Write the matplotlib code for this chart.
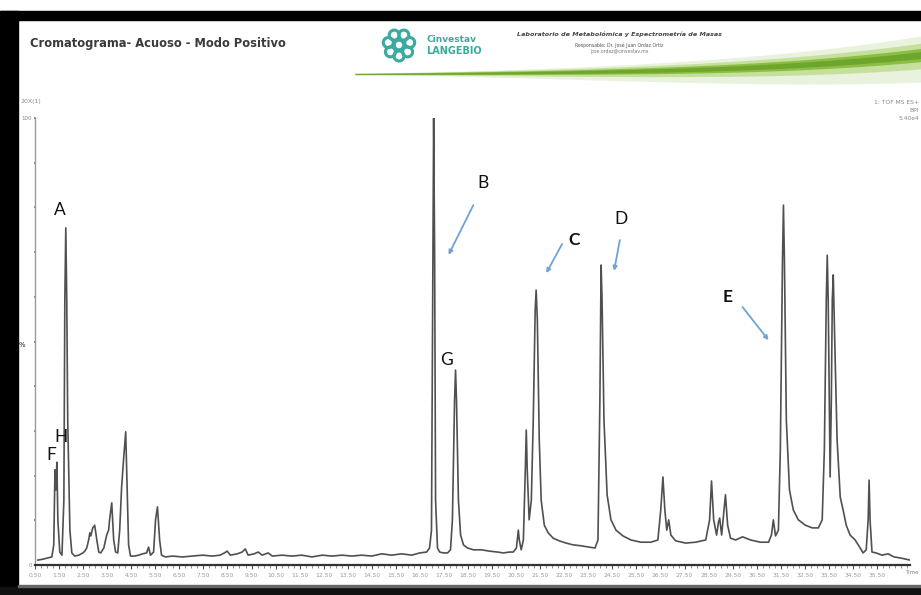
import numpy as np
import matplotlib
matplotlib.use("Agg")
from matplotlib import pyplot as plt
from matplotlib.patches import Rectangle, Circle

################################################################################
# datos leidos del cromatograma (tiempo en min, intensidad en %)
rt = [0.62, 0.83, 1.04, 1.20, 1.28, 1.33, 1.37, 1.41, 1.45, 1.53, 1.62, 1.70,
      1.74, 1.78, 1.82, 1.86, 1.95, 2.03, 2.15, 2.32, 2.49, 2.57, 2.65, 2.73,
      2.78, 2.82, 2.90, 2.98, 3.07, 3.15, 3.23, 3.36, 3.48, 3.56, 3.60, 3.69,
      3.77, 3.85, 3.94, 4.02, 4.10, 4.18, 4.27, 4.31, 4.39, 4.47, 4.64, 4.81,
      4.97, 5.14, 5.22, 5.30, 5.43, 5.51, 5.59, 5.68, 5.76, 5.92,
      6.21, 6.63, 7.04, 7.46, 7.87, 8.20, 8.37, 8.49, 8.62, 8.91, 9.11, 9.24,
      9.36, 9.61, 9.78, 9.94, 10.19, 10.36, 10.77, 11.18, 11.60, 12.01, 12.43,
      12.84, 13.26, 13.67, 14.08, 14.50, 14.91, 15.33, 15.74, 16.16, 16.49,
      16.78, 16.90,
      16.98, 17.03, 17.07, 17.11, 17.15, 17.23, 17.32, 17.48, 17.65, 17.77,
      17.85, 17.94, 17.98, 18.02, 18.10, 18.19, 18.31, 18.48, 18.72, 19.06,
      19.39, 19.72, 19.97, 20.22, 20.38, 20.51, 20.59, 20.63, 20.71, 20.80,
      20.88, 20.92, 20.96, 21.04, 21.13, 21.21, 21.29, 21.33, 21.38, 21.46,
      21.54, 21.67, 21.83, 22.04, 22.29, 22.58, 22.87, 23.20, 23.53, 23.78,
      23.90, 23.98, 24.03, 24.07, 24.15, 24.28, 24.44, 24.65, 24.94, 25.27,
      25.68, 26.10, 26.39, 26.51, 26.60, 26.68, 26.76, 26.84, 26.93, 27.13,
      27.55, 27.96, 28.38, 28.54, 28.62, 28.71, 28.83, 28.91, 28.96, 29.04,
      29.12, 29.20, 29.29, 29.41, 29.62, 29.91, 30.24, 30.65, 30.99, 31.11,
      31.19, 31.28, 31.40, 31.48, 31.57, 31.61, 31.65, 31.73, 31.86, 32.02,
      32.23, 32.52, 32.81, 33.06, 33.22, 33.31, 33.39, 33.43, 33.47, 33.55,
      33.60, 33.64, 33.68, 33.76, 33.84, 33.97, 34.09, 34.22, 34.38, 34.59,
      34.80, 34.92, 35.05, 35.13, 35.17, 35.21, 35.29, 35.46, 35.71, 35.96,
      36.21, 36.45, 36.70, 36.87]
intensidad = [1.1, 1.3, 1.6, 1.8, 4.5, 21.3, 16.8, 23.0, 10.1, 2.9, 2.2, 14.5,
              59.3, 75.4, 59.3, 32.4, 7.8, 2.7, 2.0, 2.2, 2.7, 3.1, 3.8, 5.6,
              7.2, 6.5, 8.3, 8.9, 5.6, 2.9, 2.7, 3.8, 6.7, 7.8, 10.1, 13.9,
              5.6, 2.9, 2.7, 7.8, 17.4, 23.5, 29.8, 21.3, 4.5, 2.0, 2.0, 2.2,
              2.5, 2.7, 4.0, 2.2, 2.9, 10.1, 13.0, 5.6, 2.2, 1.8,
              2.0, 1.8, 2.0, 2.2, 2.0, 2.2, 2.7, 3.1, 2.2, 2.5, 2.9, 3.6,
              2.2, 2.5, 2.9, 2.2, 2.7, 2.0, 2.2, 2.0, 2.2, 1.8, 2.2,
              2.0, 2.2, 2.0, 2.2, 2.0, 2.5, 2.2, 2.5, 2.2, 2.7,
              2.9, 3.8,
              7.8, 59.3, 100.0, 70.5, 14.5, 3.8, 2.9, 2.7, 2.7, 3.4,
              10.1, 36.9, 43.6, 36.9, 14.5, 6.7, 4.5, 3.8, 3.4, 3.4,
              3.1, 2.9, 2.7, 2.9, 2.9, 3.8, 7.8, 5.6, 3.4, 5.6,
              21.3, 30.2, 21.3, 10.1, 14.5, 32.4, 57.0, 61.5, 54.8, 28.0,
              14.5, 8.9, 7.2, 6.0, 5.4, 4.9, 4.5, 4.3, 4.0, 3.8,
              5.6, 36.9, 67.1, 59.3, 32.4, 15.7, 10.1, 7.8, 6.5, 5.6,
              5.1, 5.1, 5.6, 12.3, 19.7, 12.3, 7.8, 10.1, 6.7, 5.4,
              4.9, 5.1, 5.6, 10.1, 18.8, 10.1, 6.7, 9.6, 10.5, 6.7,
              11.2, 15.7, 8.9, 6.0, 5.6, 6.3, 5.6, 5.1, 5.1, 6.7,
              10.1, 6.5, 7.8, 25.7, 68.2, 80.5, 68.2, 32.4, 16.8, 12.3,
              10.1, 8.9, 8.3, 8.3, 10.1, 25.7, 59.3, 69.3, 59.3, 19.7,
              36.9, 59.3, 64.9, 45.9, 28.0, 15.2, 12.3, 8.9, 6.7, 5.6,
              3.8, 2.7, 3.4, 10.1, 19.0, 10.1, 2.9, 2.7, 2.2, 2.5,
              1.8, 1.6, 1.3, 1.1]

# etiquetas de los picos
etiquetas = ['A', 'B', 'C', 'D', 'E', 'F', 'G', 'H']
etq_rt = [1.53, 19.14, 22.91, 24.86, 29.29, 1.16, 17.61, 1.57]
etq_int = [79.4, 85.5, 72.7, 77.4, 60.0, 24.6, 45.9, 28.6]
# flechas azules (inicio -> punta)
flechas = [((18.72, 80.5), (17.69, 69.4)),
           ((22.41, 71.8), (21.75, 65.3)),
           ((24.81, 72.7), (24.57, 65.8)),
           ((29.91, 57.7), (30.99, 50.3))]

ticks_x = [0.5 + k for k in range(36)]
ticks_y = list(range(0, 101, 10))
################################################################################

W, H = 921, 595
fig = plt.figure(figsize=(W / 100, H / 100), dpi=100)
fig.patch.set_facecolor('white')

# capa de decoracion en pixeles
deco = fig.add_axes([0, 0, 1, 1], zorder=0)
deco.set_xlim(0, W)
deco.set_ylim(H, 0)
deco.axis('off')

# marco negro
deco.add_patch(Rectangle((0, 11), W, 9, color='black'))
deco.add_patch(Rectangle((0, 11), 18, H - 11, color='black'))
deco.add_patch(Rectangle((0, 587), W, 8, color='#111111'))
deco.add_patch(Rectangle((18, 585), W, 2, color='#666666'))

# franja verde (hoja)
xs = np.linspace(355, W, 300)
u = (xs - 355) / (W - 355)
yc = 74 - 3 * u - 14 * u ** 4
deco.fill_between(xs, yc - 1 - 20 * u ** 1.6, yc + 1 + 24 * u ** 1.5,
                  color='#e8f2dc', lw=0)
deco.fill_between(xs, yc - 0.8 - 13 * u ** 1.5, yc + 0.8 + 11 * u ** 1.4,
                  color='#c5df9c', lw=0)
deco.fill_between(xs, yc - 0.6 - 8 * u ** 1.4, yc + 0.6 + 4 * u ** 1.3,
                  color='#8cbd45', lw=0)
deco.fill_between(xs, yc - 0.4 - 5 * u ** 1.4, yc + 0.4 + 1 * u,
                  color='#6ea52c', lw=0)

# titulo
deco.text(30, 43, 'Cromatograma- Acuoso - Modo Positivo', ha='left', va='center',
          fontsize=9.2, fontweight='bold', color='#3a3a3a', fontstretch='condensed',
          family=['Liberation Sans Narrow', 'DejaVu Sans'])

# logo
teal = '#3aa99f'
for k in range(7):
    a = 2 * np.pi * k / 7 + np.pi / 2
    deco.add_patch(Circle((399 + 11 * np.cos(a), 45 + 11 * np.sin(a)), 5,
                          fill=False, ec=teal, lw=2.2))
deco.add_patch(Circle((399, 45), 4.5, fill=False, ec=teal, lw=1.8))
deco.text(426, 39, 'Cinvestav', fontsize=6.5, color=teal, va='center', ha='left',
          fontweight='bold')
deco.text(426, 51, 'LANGEBIO', fontsize=7, color=teal, va='center', ha='left',
          fontweight='bold')

deco.text(619, 34, 'Laboratorio de Metabolómica y Espectrometría de Masas',
          fontsize=4.6, style='italic', fontweight='bold', color='#444444',
          ha='center', va='center')
deco.text(619, 45, 'Responsable: Dr. José Juan Ordaz Ortiz', fontsize=3.3,
          color='#555555', ha='center', va='center')
deco.text(619, 52, 'jose.ordaz@cinvestav.mx', fontsize=3.3,
          color='#777777', ha='center', va='center')

# textos pequenos del software
deco.text(20, 101, '20X(1)', fontsize=4.5, color='#888888', ha='left', va='center')
deco.text(919, 103, '1: TOF MS ES+', fontsize=4.3, color='#888888', ha='right', va='center')
deco.text(919, 111, 'BPI', fontsize=4.3, color='#888888', ha='right', va='center')
deco.text(919, 119, '5.40e4', fontsize=4.3, color='#888888', ha='right', va='center')
deco.text(22, 345, '%', fontsize=5, color='#222222', ha='center', va='center')
deco.text(919, 572, 'Time', fontsize=4, color='#888888', ha='right', va='center')

# grafico
x0, x1, y0, y1 = 35, 910, 565, 118
ax = fig.add_axes([x0 / W, 1 - y0 / H, (x1 - x0) / W, (y0 - y1) / H], zorder=2)
ax.patch.set_alpha(0)
ax.plot(rt, intensidad, color='#505050', lw=1.2)
ax.set_xlim(0.62, 36.87)
ax.set_ylim(0, 100)

for s in ['top', 'right']:
    ax.spines[s].set_visible(False)
ax.spines['left'].set_color('#9a9a9a')
ax.spines['left'].set_linewidth(1.0)
ax.spines['bottom'].set_color('#333333')
ax.spines['bottom'].set_linewidth(1.6)

ax.set_xticks(ticks_x)
ax.set_xticklabels(['%.2f' % v for v in ticks_x])
ax.set_xticks(np.arange(0.75, 36.8, 0.25), minor=True)
ax.tick_params(axis='x', which='major', length=3, width=0.8, color='#555555',
               labelsize=4.3, labelcolor='#9a9a9a', pad=3)
ax.tick_params(axis='x', which='minor', length=1.8, width=0.6, color='#777777')
ax.set_yticks(ticks_y)
ax.set_yticklabels(['0' if v == 0 else ('100' if v == 100 else '') for v in ticks_y])
ax.tick_params(axis='y', length=2, width=1.2, direction='inout', color='#777777',
               labelsize=4, labelcolor='#888888', pad=1)

# letras de los picos
for lab, t, v in zip(etiquetas, etq_rt, etq_int):
    w = 'bold' if lab in ('C', 'E') else 'normal'
    ax.text(t, v, lab, fontsize=12.5, ha='center', va='center', color='#111111',
            fontweight=w, family=['Lato', 'DejaVu Sans'])

for (a, b) in flechas:
    ax.annotate('', xy=b, xytext=a,
                arrowprops=dict(arrowstyle='-|>', color='#6fa3d6', lw=1.3,
                                mutation_scale=6, shrinkA=0, shrinkB=0))

fig.savefig('out.png', dpi=100)
